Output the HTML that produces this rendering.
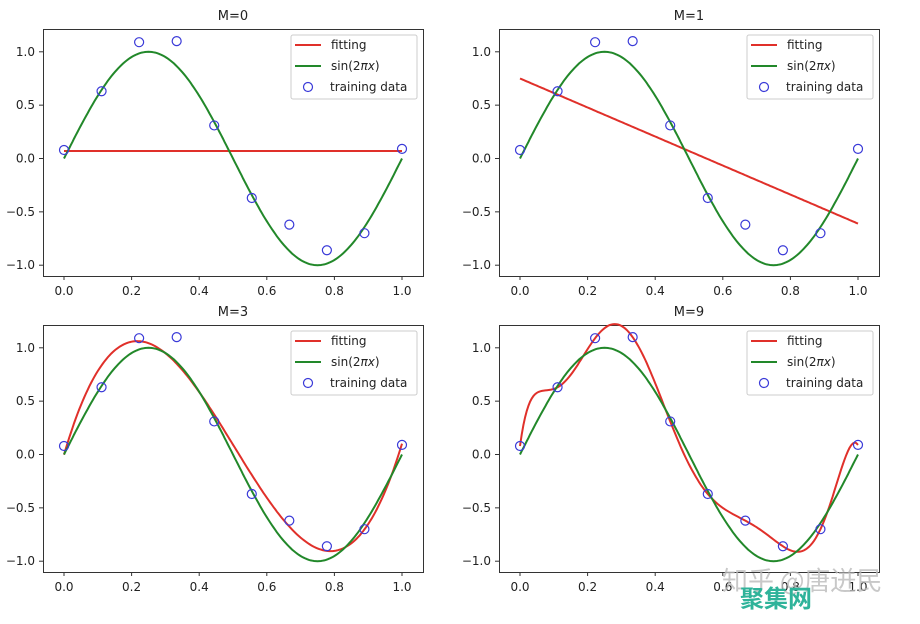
<!DOCTYPE html>
<html><head><meta charset="utf-8"><style>
body{margin:0;background:#fff}
svg text{font-family:"DejaVu Sans","Liberation Sans",sans-serif;font-size:12px;fill:#222}
</style></head><body>
<svg id="s" width="920" height="619" xmlns="http://www.w3.org/2000/svg"></svg>
<script>
const xs=[...Array(10)].map((_,i)=>i/9);
const ys=[0.08,0.63,1.09,1.10,0.31,-0.37,-0.62,-0.86,-0.70,0.09];
function polyfit(deg){
 const n=deg+1,A=[],b=[];
 for(let i=0;i<n;i++){A.push([]);for(let j=0;j<n;j++){let s=0;xs.forEach(x=>s+=Math.pow(x,i+j));A[i].push(s);}let t=0;xs.forEach((x,k)=>t+=Math.pow(x,i)*ys[k]);b.push(t);}
 for(let i=0;i<n;i++){let p=i;for(let r=i+1;r<n;r++)if(Math.abs(A[r][i])>Math.abs(A[p][i]))p=r;[A[i],A[p]]=[A[p],A[i]];[b[i],b[p]]=[b[p],b[i]];
  for(let r=0;r<n;r++){if(r==i)continue;const f=A[r][i]/A[i][i];for(let c=i;c<n;c++)A[r][c]-=f*A[i][c];b[r]-=f*b[i];}}
 const c=b.map((v,i)=>v/A[i][i]);return x=>c.reduce((s,ci,i)=>s+ci*Math.pow(x,i),0);
}
function lagr(x){let s=0;for(let i=0;i<10;i++){let l=1;for(let j=0;j<10;j++)if(j!=i)l*=(x-xs[j])/(xs[i]-xs[j]);s+=ys[i]*l;}return s;}
const fits=[x=>0.07,x=>0.75-1.36*x,polyfit(3),lagr];
const titles=["M=0","M=1","M=3","M=9"];
let h="";
[[0,0],[456,0],[0,296],[456,296]].forEach(([dx,dy],k)=>{
 const X=x=>dx+64+x*338, Y=y=>dy+158.5-y*106.7;
 h+=`<rect x="${dx+43.5}" y="${dy+29.5}" width="380" height="247" fill="#fff" stroke="#333" stroke-width="1"/>`;
 h+=`<text x="${dx+233}" y="${dy+20}" text-anchor="middle" style="font-size:13px">${titles[k]}</text>`;
 for(let i=0;i<=5;i++){const x=X(i*0.2);h+=`<line x1="${x}" y1="${dy+276}" x2="${x}" y2="${dy+280}" stroke="#333"/><text x="${x}" y="${dy+295}" text-anchor="middle">${(i*0.2).toFixed(1)}</text>`;}
 for(let i=-2;i<=2;i++){const y=Y(i*0.5);h+=`<line x1="${dx+39}" y1="${y}" x2="${dx+43}" y2="${y}" stroke="#333"/><text x="${dx+35}" y="${y+4}" text-anchor="end">${(i*0.5).toFixed(1).replace('-','−')}</text>`;}
 let g="",r="";
 for(let i=0;i<=200;i++){const x=i/200;g+=(i?"L":"M")+X(x).toFixed(1)+","+Y(Math.sin(2*Math.PI*x)).toFixed(1);r+=(i?"L":"M")+X(x).toFixed(1)+","+Y(fits[k](x)).toFixed(1);}
 h+=`<path d="${r}" fill="none" stroke="#e0302a" stroke-width="2"/>`;
 h+=`<path d="${g}" fill="none" stroke="#22882a" stroke-width="2"/>`;
 xs.forEach((x,i)=>h+=`<circle cx="${X(x)}" cy="${Y(ys[i])}" r="4.5" fill="none" stroke="#3a3ad8" stroke-width="1.2"/>`);
 h+=`<rect x="${dx+291}" y="${dy+35}" width="126" height="64" rx="2" fill="#fff" fill-opacity="0.85" stroke="#ccc"/>`;
 h+=`<line x1="${dx+295}" y1="${dy+45}" x2="${dx+321}" y2="${dy+45}" stroke="#e0302a" stroke-width="2"/><text x="${dx+331}" y="${dy+49}">fitting</text>`;
 h+=`<line x1="${dx+295}" y1="${dy+66}" x2="${dx+321}" y2="${dy+66}" stroke="#22882a" stroke-width="2"/><text x="${dx+331}" y="${dy+70}">sin(2<tspan font-style="italic">πx</tspan>)</text>`;
 h+=`<circle cx="${dx+308}" cy="${dy+87}" r="4.5" fill="none" stroke="#3a3ad8" stroke-width="1.2"/><text x="${dx+330}" y="${dy+91}">training data</text>`;
});
h+=`<text x="722" y="590" style="font-size:26px;fill:#bbb;opacity:0.8;font-family:'Noto Sans CJK SC',sans-serif">知乎 @唐迸民</text>`;
h+=`<text x="740" y="607" style="font-size:24px;font-weight:bold;fill:#2fb39a;font-family:'Noto Sans CJK SC',sans-serif">聚集网</text>`;
document.getElementById('s').innerHTML=h;
</script>
</body></html>
